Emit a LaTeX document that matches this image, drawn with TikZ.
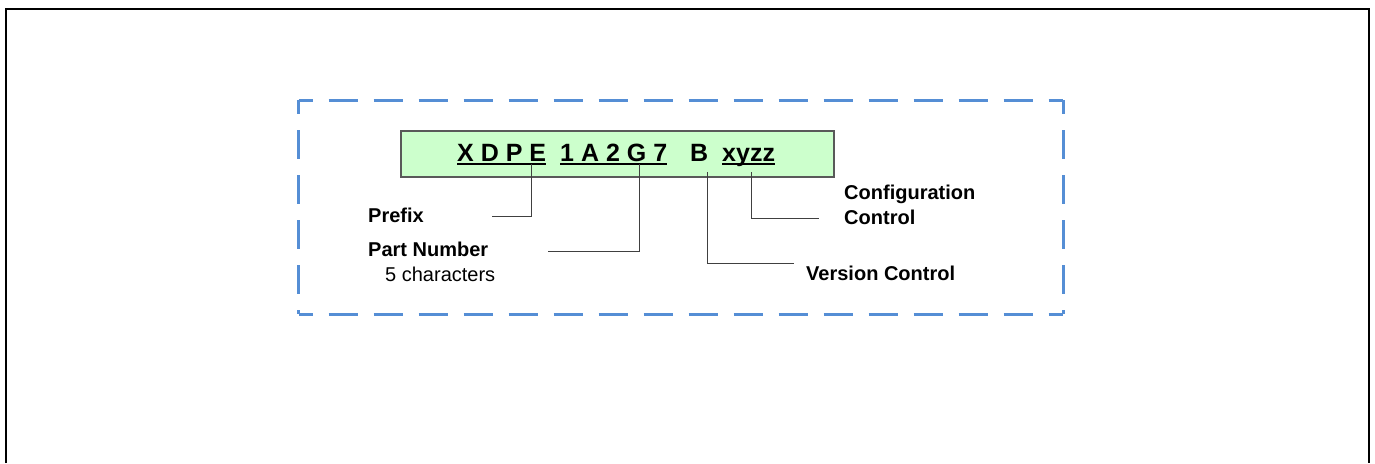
\documentclass[tikz,border=0pt]{standalone}
\usepackage{fontspec}
\setmainfont{Liberation Sans}
\usetikzlibrary{calc}
\definecolor{dashblue}{HTML}{558ED5}
\definecolor{boxgreen}{HTML}{CCFFCC}
\begin{document}
\begin{tikzpicture}[x=1pt,y=-1pt,
  code/.style={anchor=base west,inner sep=0pt,font=\fontsize{25}{30}\selectfont\bfseries},
  lbl/.style={anchor=base west,inner sep=0pt,font=\fontsize{20}{24}\selectfont\bfseries},
  lblr/.style={anchor=base west,inner sep=0pt,font=\fontsize{20}{24}\selectfont},
  uline/.style={line width=2.2pt},
  conn/.style={draw=black!75,line width=1pt},
  dashside/.style={draw=dashblue,line width=3pt,dash pattern=on 29pt off 16pt,dash phase=15pt}
]
\useasboundingbox (0,0) rectangle (1375,463);
% outer frame
\draw[line width=2pt] (6,463) -- (6,9) -- (1369,9) -- (1369,463);
% dashed frame
\coordinate (tl) at (298.5,100);
\coordinate (tr) at (1063,100);
\coordinate (bl) at (298.5,314);
\coordinate (br) at (1063,314);
\draw[dashside] (tl) -- (tr);
\draw[dashside] (tl) -- (bl);
\draw[dashside] (tr) -- (br);
\draw[dashside] (bl) -- (br);
% green box
\node[draw=black!65,fill=boxgreen,line width=1.5pt,inner sep=0pt,minimum width=433pt,minimum height=46pt,anchor=north west] (box) at (400,130) {};
% code text
\node[code] (g1) at (457,161) {X D P E};
\node[code] (g2) at (560,161) {1 A 2 G 7};
\node[code] (g3) at (690,161) {B};
\node[code] (g4) at (722,161) {xyzz};
\draw[uline] ($(g1.base west)+(0,3)$) -- ($(g1.base east)+(0,3)$);
\draw[uline] ($(g2.base west)+(0,3)$) -- ($(g2.base east)+(0,3)$);
\draw[uline] ($(g4.base west)+(0,3)$) -- ($(g4.base east)+(0,3)$);
% labels
\node[lbl] (prefix) at (368,222) {Prefix};
\node[lbl] (part) at (368,256) {Part Number};
\node[lblr] (chars) at (385,281) {5 characters};
\node[lbl] (config1) at (844,199) {Configuration};
\node[lbl] (config2) at (844,224) {Control};
\node[lbl] (version) at (806,280) {Version Control};
% connector points
\coordinate (p0) at (531,164);
\coordinate (p1) at (492,216);
\coordinate (n0) at (639,164);
\coordinate (n1) at (548,251);
\coordinate (v0) at (707,172);
\coordinate (v1) at (794,263);
\coordinate (c0) at (751,172);
\coordinate (c1) at (819,218);
\draw[conn] (p0) |- (p1);
\draw[conn] (n0) |- (n1);
\draw[conn] (v0) |- (v1);
\draw[conn] (c0) |- (c1);
\end{tikzpicture}
\end{document}
